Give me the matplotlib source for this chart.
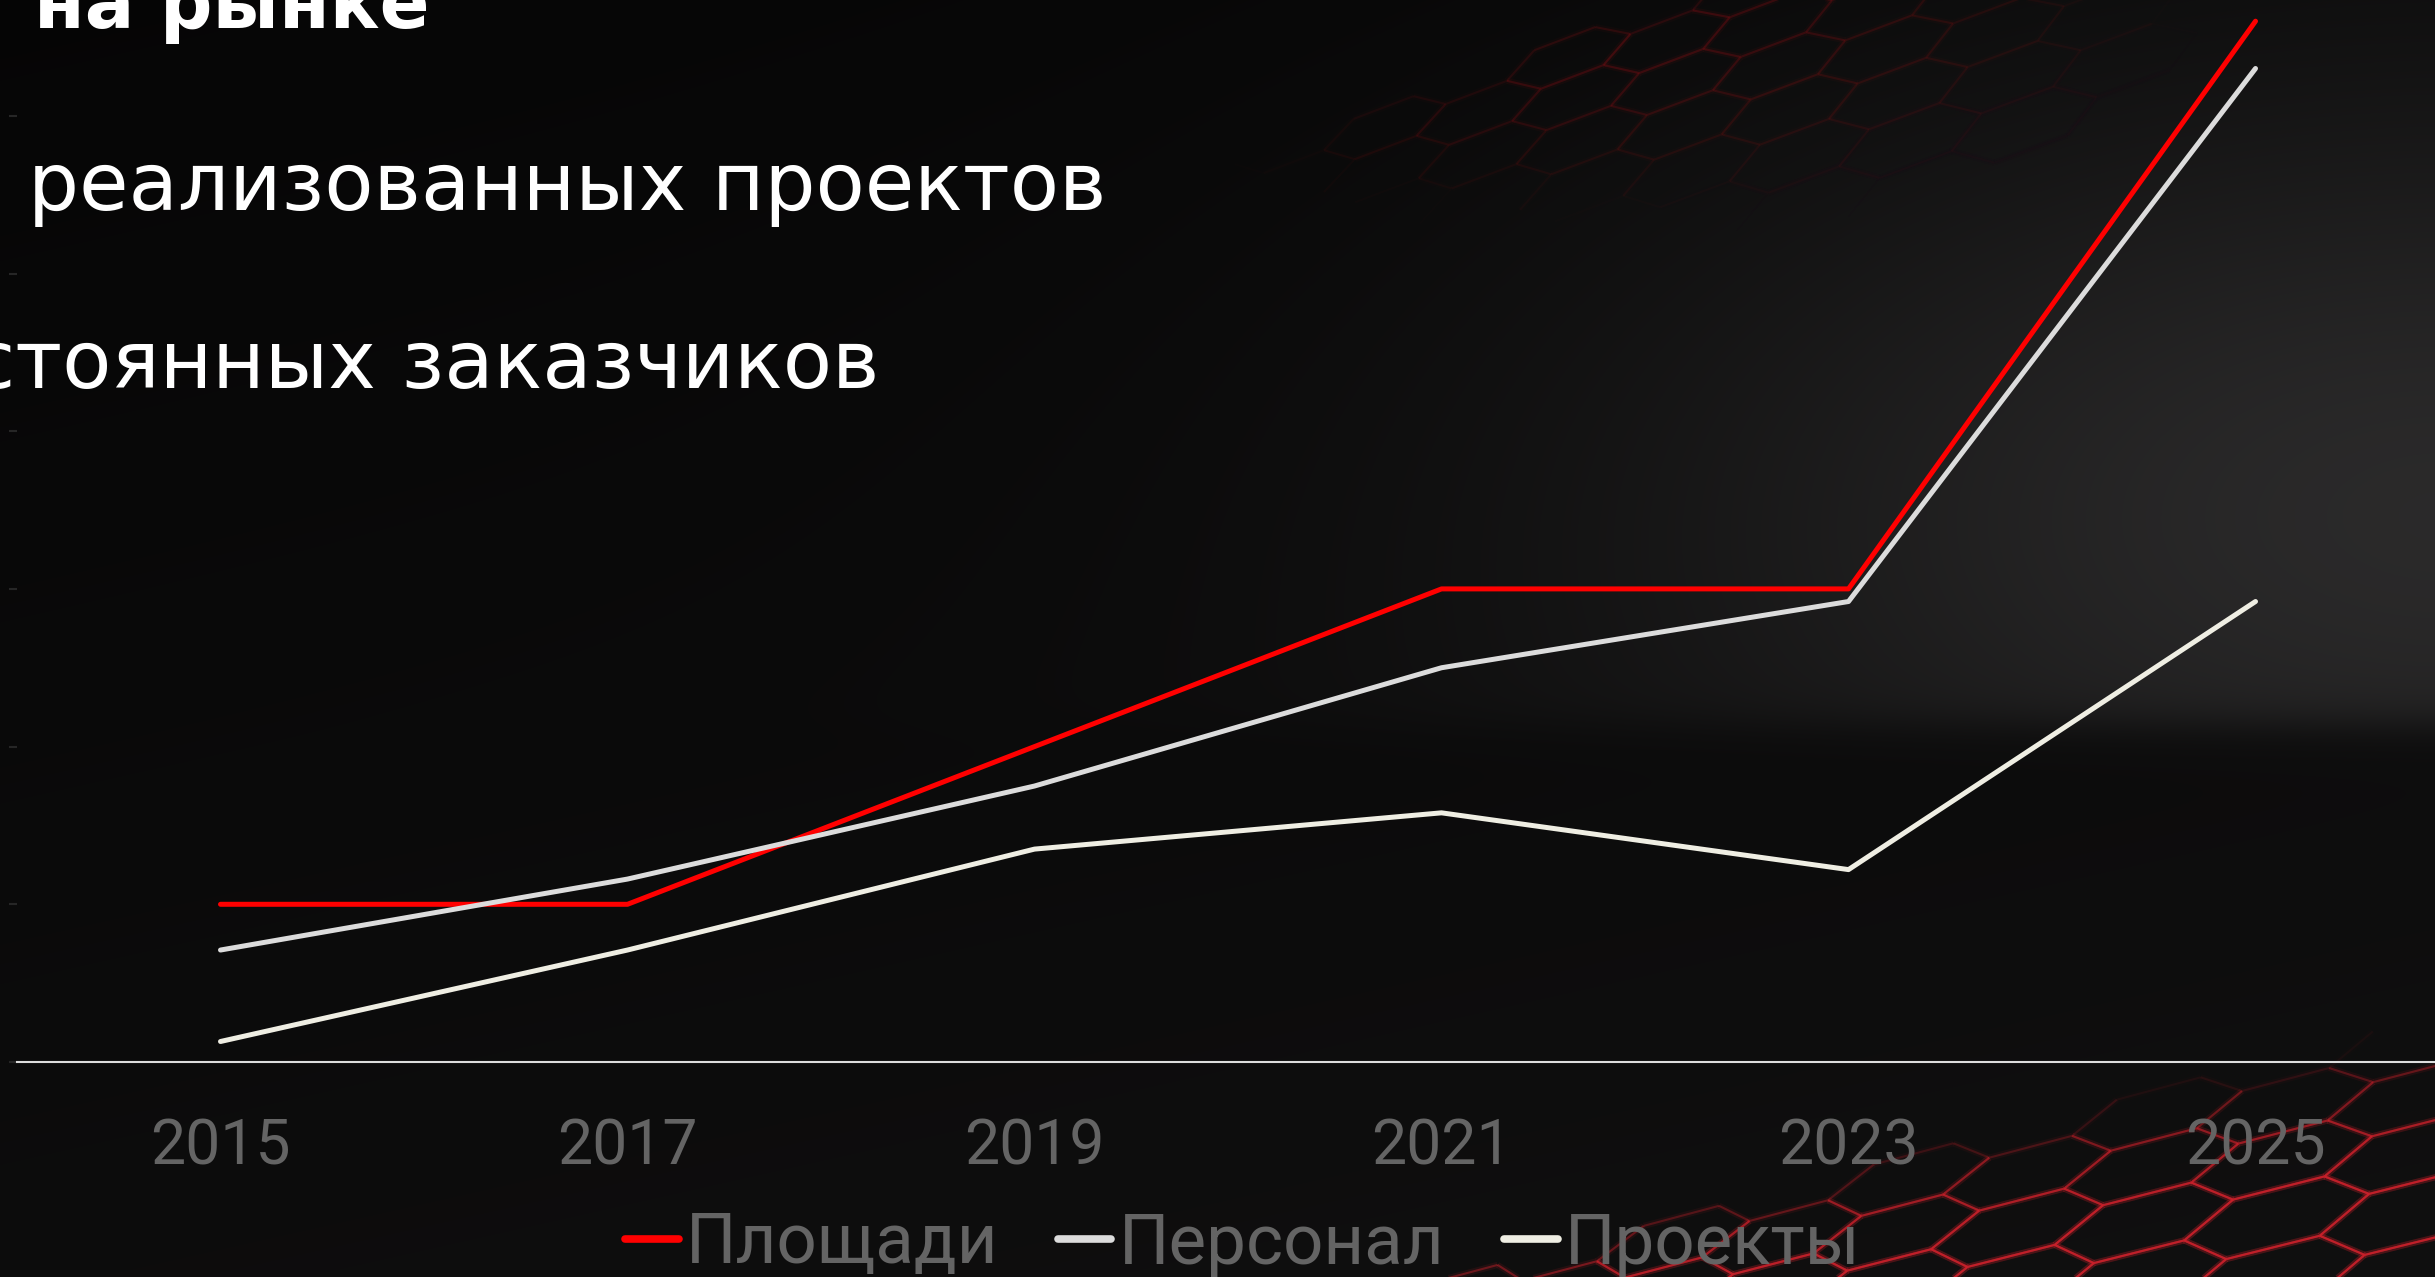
import numpy as np
import matplotlib.pyplot as plt
from matplotlib.collections import LineCollection

# data
years = ['2015', '2017', '2019', '2021', '2023', '2025']
ploshchadi = [1.0, 1.0, 2.0, 3.0, 3.0, 6.6]
personal = [0.71, 1.16, 1.75, 2.5, 2.92, 6.3]
proekty = [0.13, 0.71, 1.35, 1.58, 1.22, 2.92]

W, H = 2435, 1277
fig = plt.figure(figsize=(W / 100, H / 100), dpi=100)

# background: dark gradient with a soft grey glow on the right
bg = fig.add_axes([0, 0, 1, 1], zorder=-1)
bg.set_xlim(0, W)
bg.set_ylim(H, 0)
bg.axis('off')

yy, xx = np.mgrid[0:H, 0:W].astype(float)
base = 0.022 + 0.028 * (yy / H) + 0.012 * (xx / W)
glow = 0.12 * np.exp(-((xx - W) ** 2 / 800 ** 2 + (yy - 500) ** 2 / 420 ** 2))
glow *= 1 / (1 + np.exp((yy - 725) / 12))
img = np.clip(base + glow, 0, 1)
rgb = np.dstack([img * 1.01, img * 0.99, img * 1.0])
bg.imshow(np.clip(rgb, 0, 1), extent=(0, W, H, 0), aspect='auto', interpolation='bilinear')


def hex_segments(nx, ny):
    r = 1.0
    ang = np.deg2rad(np.arange(0, 360, 60))
    segs = []
    for i in range(nx):
        for j in range(ny):
            cx = i * 1.5 * r
            cy = j * np.sqrt(3) * r + (i % 2) * np.sqrt(3) / 2 * r
            px = cx + r * np.cos(ang)
            py = cy + r * np.sin(ang)
            for k in range(6):
                segs.append([(px[k], py[k]), (px[(k + 1) % 6], py[(k + 1) % 6])])
    return np.array(segs)


def draw_mesh(ox, oy, a, b, c, d, nx, ny, rgbcol, alpha_fn, lw):
    s = hex_segments(nx, ny)
    u, v = s[..., 0], s[..., 1]
    X = ox + u * a + v * b
    Y = oy + u * c + v * d
    # slight perspective: cells grow towards the lower right
    grow = 1 + 0.00035 * (X - ox) + 0.0008 * (Y - oy)
    X = ox + (X - ox) * grow
    Y = oy + (Y - oy) * grow
    segs = np.stack([X, Y], axis=-1)
    mx, my = X.mean(axis=1), Y.mean(axis=1)
    al = alpha_fn(mx, my)
    for width, fac in [(lw * 3.0, 0.25), (lw, 1.0)]:
        cols = np.zeros((len(segs), 4))
        cols[:, :3] = rgbcol
        cols[:, 3] = al * fac
        bg.add_collection(LineCollection(segs, colors=cols, linewidths=width))


# lower right red mesh
draw_mesh(1450, 1300, 72, -14, -19, 30, 18, 8, (0.80, 0.13, 0.17),
          lambda x, y: np.clip((x - 1600) / 750 + (y - 1170) / 130, 0, 1) * 0.7, 1.5)
# faint upper mesh
draw_mesh(850, 330, 58, -8, -22, 26, 22, 8, (0.45, 0.06, 0.08),
          lambda x, y: np.clip(1 - np.hypot((x - 1600) / 600, (y - 30) / 190), 0, 1) * 0.3, 1.5)

# main chart
ax = fig.add_axes([17 / W, (H - 1062) / H, (W - 17) / W, 1062 / H])
ax.patch.set_alpha(0)
x = np.arange(len(years))
ax.plot(x, ploshchadi, color='#ff0000', lw=3.6, solid_capstyle='round', label='Площади')
ax.plot(x, personal, color='#dcdcdc', lw=3.6, solid_capstyle='round', label='Персонал')
ax.plot(x, proekty, color='#efeee3', lw=3.6, solid_capstyle='round', label='Проекты')

ax.set_xlim(-0.5, 5.441)
ax.set_ylim(0, 1062 / 157.7)
ax.set_xticks(x, years)
ax.set_yticks(range(0, 7))
ax.set_yticklabels([])
ax.tick_params(axis='x', length=0, pad=40, labelsize=45, labelcolor='#646464')
for lab in ax.get_xticklabels():
    lab.set_family('Roboto')
ax.tick_params(axis='y', length=6, width=1.5, color='#262626')
for side in ['top', 'right', 'left']:
    ax.spines[side].set_visible(False)
ax.spines['bottom'].set_color('#dddddd')
ax.spines['bottom'].set_linewidth(1.5)

leg = ax.legend(loc='center', bbox_to_anchor=(0.507, -182 / 1062), ncol=3, frameon=False,
                prop={'family': 'Roboto', 'size': 51},
                labelcolor='#646464', handlelength=0.75, handletextpad=0.1, columnspacing=0.85)
for ln in leg.get_lines():
    ln.set_linewidth(5.5)
    ln.set_solid_capstyle('round')

# headline text, cut by the edges as in the reference
bg.text(34, 28, 'на рынке', ha='left', va='baseline', fontsize=53,
        fontweight='bold', color='white', family='DejaVu Sans')
bg.text(28, 210, 'реализованных проектов', ha='left', va='baseline', fontsize=58,
        color='white', family='DejaVu Sans')
bg.text(879, 388, 'стоянных заказчиков', ha='right', va='baseline', fontsize=58,
        color='white', family='DejaVu Sans')

fig.savefig('out.png', dpi=100, facecolor='#0a0a0a')
